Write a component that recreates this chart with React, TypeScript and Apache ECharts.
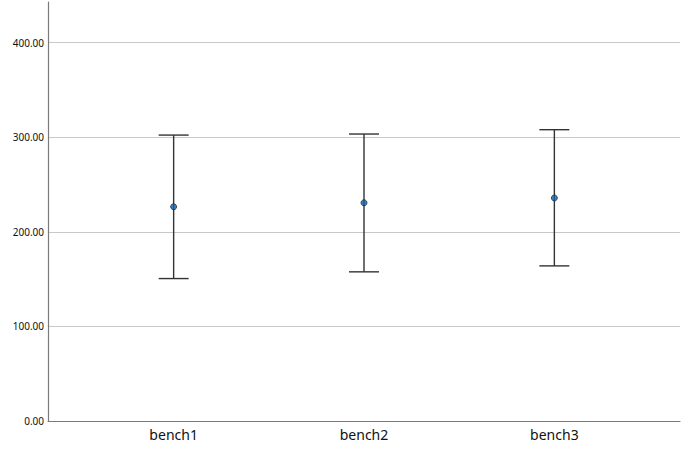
import React, { useEffect, useRef } from "react";
import * as echarts from "echarts";

const categories = ["bench1", "bench2", "bench3"];
const means = [226.5, 230.7, 235.8];
const lowers = [150.6, 157.7, 164.0];
const uppers = [302.3, 303.4, 308.0];
const yTicks = [0, 100, 200, 300, 400];

export default function App() {
  const ref = useRef<HTMLDivElement>(null);
  useEffect(() => {
    document.body.style.margin = "0";
    const chart = echarts.init(ref.current!, undefined, { renderer: "svg" });
    const errData = categories.map((_, i) => [i, lowers[i], uppers[i]]);
    const meanData = categories.map((_, i) => [i, means[i]]);
    chart.setOption({
      animation: false,
      backgroundColor: "#ffffff",
      grid: { left: 48, right: 9, top: 2, bottom: 33 },
      xAxis: {
        type: "value",
        min: -0.66,
        max: 2.66,
        splitLine: { show: false },
        axisLine: { show: true, onZero: false, lineStyle: { color: "#7a7a7a", width: 1.2 } },
        axisTick: { show: false },
        axisLabel: {
          customValues: [0, 1, 2],
          formatter: (v: number) => categories[Math.round(v)] ?? "",
          color: "#111",
          fontSize: 14,
          fontFamily: "Noto Sans",
          margin: 6,
        },
      },
      yAxis: {
        type: "value",
        min: 0,
        max: 443,
        interval: 100,
        axisLine: { show: true, onZero: false, lineStyle: { color: "#7a7a7a", width: 1.2 } },
        axisTick: { show: false },
        splitLine: { show: true, showMaxLine: false, showMinLine: false, lineStyle: { color: "#c8c8c8", width: 1 } },
        axisLabel: {
          customValues: yTicks,
          formatter: (v: number) => v.toFixed(2),
          color: "#111",
          fontSize: 10,
          fontFamily: "Noto Sans",
          margin: 4,
        },
      },
      series: [
        {
          type: "custom",
          data: errData,
          renderItem: (params: any, api: any) => {
            const x = api.value(0);
            const lo = api.coord([x, api.value(1)]);
            const hi = api.coord([x, api.value(2)]);
            const hw = 15;
            const style = { stroke: "#333333", lineWidth: 1.4 };
            return {
              type: "group",
              children: [
                { type: "line", shape: { x1: lo[0], y1: lo[1], x2: hi[0], y2: hi[1] }, style },
                { type: "line", shape: { x1: hi[0] - hw, y1: hi[1], x2: hi[0] + hw, y2: hi[1] }, style },
                { type: "line", shape: { x1: lo[0] - hw, y1: lo[1], x2: lo[0] + hw, y2: lo[1] }, style },
              ],
            };
          },
          z: 2,
        },
        {
          type: "scatter",
          data: meanData,
          symbol: "circle",
          symbolSize: 6,
          itemStyle: { color: "#0f62ad", borderColor: "#1a2a3a", borderWidth: 1 },
          z: 3,
        },
      ],
    });
    return () => chart.dispose();
  }, []);
  return <div ref={ref} style={{ width: 689, height: 454 }} />;
}
